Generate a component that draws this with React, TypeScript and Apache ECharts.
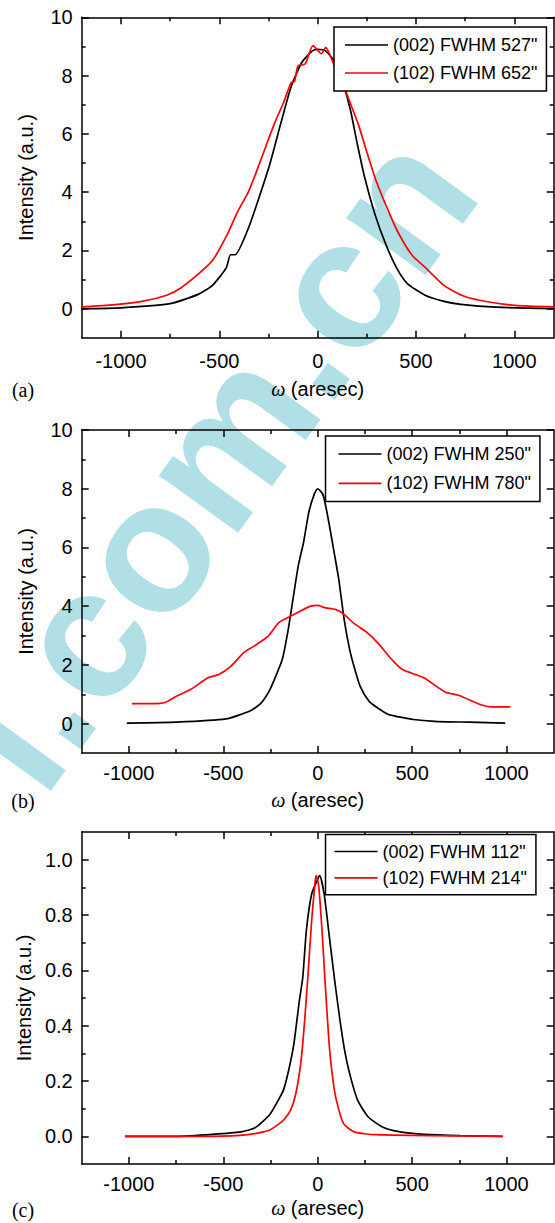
import React, { useEffect, useRef } from "react";
import * as echarts from "echarts";

// ---------- data ----------
const aX002 = [-1200, -1000, -750, -605, -535, -465, -443, -420, -353, -299, -244, -190, -136, -81, -27, 0, 40, 95, 131, 167, 203, 239, 293, 347, 401, 456, 546, 637, 727, 908, 1200];
const aY002 = [0.0, 0.03, 0.17, 0.5, 0.8, 1.4, 1.85, 1.85, 2.75, 3.8, 4.95, 6.3, 7.6, 8.45, 8.85, 8.9, 8.85, 8.4, 7.7, 6.8, 5.6, 4.5, 3.2, 2.2, 1.4, 0.86, 0.46, 0.26, 0.15, 0.05, 0.0];
const aX102 = [-1200, -1075, -894, -768, -696, -605, -533, -461, -407, -353, -317, -262, -217, -172, -136, -118, -100, -64, -24, 18, 41, 81, 118, 163, 208, 244, 298, 353, 407, 479, 552, 642, 733, 823, 1004, 1200];
const aY102 = [0.06, 0.11, 0.25, 0.46, 0.71, 1.2, 1.67, 2.53, 3.33, 4.0, 4.6, 5.6, 6.4, 7.1, 7.75, 7.8, 8.33, 8.4, 9.03, 8.75, 8.97, 8.4, 7.9, 7.1, 6.3, 5.5, 4.37, 3.45, 2.64, 1.84, 1.38, 0.8, 0.46, 0.29, 0.11, 0.06];

const bX002 = [-1011, -749, -487, -356, -300, -253, -215, -187, -159, -131, -103, -75, -47, -19, 0, 28, 56, 84, 112, 140, 169, 197, 225, 272, 318, 375, 431, 506, 618, 805, 993];
const bY002 = [0.02, 0.05, 0.16, 0.44, 0.7, 1.16, 1.73, 2.2, 3.1, 4.23, 5.37, 6.17, 7.2, 7.8, 8.0, 7.8, 6.96, 5.94, 4.9, 3.55, 2.53, 1.84, 1.27, 0.76, 0.53, 0.31, 0.23, 0.14, 0.08, 0.05, 0.02];
const bX102 = [-983, -880, -805, -749, -674, -581, -524, -459, -393, -337, -262, -206, -150, -94, -37, 0, 37, 94, 140, 187, 262, 318, 393, 449, 562, 674, 749, 861, 918, 1021];
const bY102 = [0.68, 0.68, 0.73, 0.93, 1.16, 1.56, 1.67, 1.96, 2.41, 2.64, 2.98, 3.44, 3.64, 3.83, 4.0, 4.03, 3.95, 3.89, 3.72, 3.44, 3.1, 2.75, 2.18, 1.84, 1.56, 1.08, 0.96, 0.65, 0.57, 0.57];

const cX002 = [-1021, -744, -557, -407, -332, -257, -219, -182, -154, -126, -97, -79, -60, -32, 0, 11, 34, 62, 90, 118, 146, 174, 212, 268, 343, 437, 568, 755, 980];
const cY002 = [0.0, 0.0, 0.007, 0.016, 0.031, 0.076, 0.118, 0.166, 0.238, 0.335, 0.491, 0.575, 0.744, 0.876, 0.93, 0.942, 0.876, 0.72, 0.563, 0.419, 0.298, 0.214, 0.13, 0.07, 0.034, 0.016, 0.007, 0.0025, 0.0];
const cX102 = [-1021, -557, -369, -257, -182, -144, -116, -88, -69, -51, -32, -13, -7, 6, 24, 43, 62, 81, 99, 137, 193, 306, 980];
const cY102 = [0.0, 0.0, 0.006, 0.022, 0.058, 0.094, 0.154, 0.274, 0.419, 0.587, 0.78, 0.924, 0.942, 0.9, 0.732, 0.515, 0.322, 0.202, 0.13, 0.046, 0.016, 0.006, 0.0];

const names = [
  ['(002) FWHM 527"', '(102) FWHM 652"'],
  ['(002) FWHM 250"', '(102) FWHM 780"'],
  ['(002) FWHM 112"', '(102) FWHM 214"'],
];
const captions = ["(a)", "(b)", "(c)"];

const xMajor = [-1000, -500, 0, 500, 1000];
const xMinor = [-750, -250, 250, 750];
const yMajorAB = [0, 2, 4, 6, 8, 10];
const yMinorAB = [1, 3, 5, 7, 9];
const yMajorC = [0, 0.2, 0.4, 0.6, 0.8, 1.0];
const yMinorC = [0.1, 0.3, 0.5, 0.7, 0.9];

const zip = (xs: number[], ys: number[]) => xs.map((x, i) => [x, ys[i]]);

const SANS = "'Liberation Sans', Arial, sans-serif";
const SERIF = "'Liberation Serif', 'Times New Roman', serif";

export default function App() {
  const ref = useRef<HTMLDivElement>(null);
  useEffect(() => {
    if (!ref.current) return;
    const chart = echarts.init(ref.current, null, { renderer: "svg" });

    const grids = [
      { left: 81.7, top: 17.3, width: 472, height: 320.5 },
      { left: 81.7, top: 430, width: 472, height: 323 },
      { left: 81.7, top: 832, width: 472, height: 332 },
    ];
    const xRanges = [[-1200, 1200], [-1250, 1250], [-1250, 1250]];
    const yRanges = [[-1, 10], [-1, 10], [-0.1, 1.1]];
    const xLabelMargin = [13, 10, 10];
    const xNameGap = [41, 37, 34];
    const captionY = [390, 801, 1210];
    const legendPos = [
      { left: 334, top: 27, gap: 10, pad: [9, 9, 9, 11] },
      { left: 325.5, top: 436, gap: 11.4, pad: [9, 9, 9, 13] },
      { left: 325.5, top: 834.5, gap: 8.3, pad: [8, 9, 8, 9] },
    ];

    const line = { color: "#000", width: 1.5 };
    const xAxes: any[] = [];
    const yAxes: any[] = [];
    grids.forEach((_, gi) => {
      const [xmin, xmax] = xRanges[gi];
      const [ymin, ymax] = yRanges[gi];
      const yMaj = gi === 2 ? yMajorC : yMajorAB;
      const yMin = gi === 2 ? yMinorC : yMinorAB;
      const baseX = { type: "value", gridIndex: gi, min: xmin, max: xmax, splitLine: { show: false } };
      const baseY = { type: "value", gridIndex: gi, min: ymin, max: ymax, splitLine: { show: false } };
      xAxes.push({
        ...baseX,
        position: "bottom",
        axisLine: { show: true, onZero: false, lineStyle: line },
        axisTick: { show: true, inside: true, length: 7, customValues: xMajor, lineStyle: line },
        axisLabel: {
          show: true, customValues: xMajor, margin: xLabelMargin[gi], fontSize: 20, color: "#000", fontFamily: SANS,
          formatter: (v: number) => String(Math.round(v)),
        },
        name: "{w|ω} (aresec)",
        nameLocation: "middle",
        nameGap: xNameGap[gi],
        nameTextStyle: {
          fontSize: 20, color: "#000", fontFamily: SANS,
          rich: { w: { fontSize: 20, fontFamily: SERIF, fontStyle: "italic", color: "#000" } },
        },
      });
      xAxes.push({
        ...baseX,
        position: "bottom",
        axisLine: { show: false, onZero: false },
        axisTick: { show: true, inside: true, length: 4, customValues: xMinor, lineStyle: line },
        axisLabel: { show: false },
      });
      xAxes.push({
        ...baseX,
        position: "top",
        axisLine: { show: true, onZero: false, lineStyle: line },
        axisTick: { show: true, inside: true, length: 7, customValues: xMajor, lineStyle: line },
        axisLabel: { show: false },
      });
      xAxes.push({
        ...baseX,
        position: "top",
        axisLine: { show: false, onZero: false },
        axisTick: { show: true, inside: true, length: 4, customValues: xMinor, lineStyle: line },
        axisLabel: { show: false },
      });
      yAxes.push({
        ...baseY,
        position: "left",
        axisLine: { show: true, onZero: false, lineStyle: line },
        axisTick: { show: true, inside: true, length: 7, customValues: yMaj, lineStyle: line },
        axisLabel: {
          show: true, customValues: yMaj, margin: 9, fontSize: 20, color: "#000", fontFamily: SANS,
          formatter: (v: number) => (gi === 2 ? v.toFixed(1) : String(Math.round(v))),
        },
        name: "Intensity (a.u.)",
        nameLocation: "middle",
        nameGap: 46,
        nameTextStyle: { fontSize: 20, color: "#000", fontFamily: SANS },
      });
      yAxes.push({
        ...baseY,
        position: "left",
        axisLine: { show: false, onZero: false },
        axisTick: { show: true, inside: true, length: 4, customValues: yMin, lineStyle: line },
        axisLabel: { show: false },
      });
      yAxes.push({
        ...baseY,
        position: "right",
        axisLine: { show: true, onZero: false, lineStyle: line },
        axisTick: { show: true, inside: true, length: 7, customValues: yMaj, lineStyle: line },
        axisLabel: { show: false },
      });
      yAxes.push({
        ...baseY,
        position: "right",
        axisLine: { show: false, onZero: false },
        axisTick: { show: true, inside: true, length: 4, customValues: yMin, lineStyle: line },
        axisLabel: { show: false },
      });
    });

    const dataSets = [
      [zip(aX002, aY002), zip(aX102, aY102)],
      [zip(bX002, bY002), zip(bX102, bY102)],
      [zip(cX002, cY002), zip(cX102, cY102)],
    ];
    const colors = ["#000000", "#ff0000"];
    const series: any[] = [];
    dataSets.forEach((pair, gi) => {
      pair.forEach((d, si) => {
        series.push({
          type: "line",
          name: names[gi][si],
          xAxisIndex: gi * 4,
          yAxisIndex: gi * 4,
          data: d,
          showSymbol: false,
          symbol: "none",
          smooth: 0.2,
          lineStyle: { color: colors[si], width: 1.7 },
          itemStyle: { color: colors[si] },
          z: 3,
        });
      });
    });

    const legends = legendPos.map((p, gi) => ({
      orient: "vertical",
      left: p.left,
      top: p.top,
      data: names[gi],
      icon: "path://M0,0L43,0L43,1.7L0,1.7Z",
      itemWidth: 43,
      itemHeight: 14,
      itemGap: p.gap,
      padding: p.pad,
      borderColor: "#000",
      borderWidth: 1.5,
      backgroundColor: "#fff",
      textStyle: { fontSize: 18, color: "#000", fontFamily: SANS },
      selectedMode: false,
      z: 6,
    }));

    const graphic: any[] = [
      {
        type: "text",
        x: 212,
        y: 460,
        rotation: (54 * Math.PI) / 180,
        z: -1,
        silent: true,
        style: {
          text: "l.com.cn",
          fontSize: 185,
          fontWeight: "bold",
          fontFamily: SANS,
          fill: "#b0dfe5",
          align: "center",
          verticalAlign: "middle",
        },
      },
      ...captions.map((t, i) => ({
        type: "text",
        x: 23,
        y: captionY[i],
        z: 5,
        style: { text: t, fontSize: 20, fontFamily: SERIF, fill: "#000", align: "center", verticalAlign: "middle" },
      })),
    ];

    chart.setOption({
      animation: false,
      backgroundColor: "#fff",
      grid: grids.map((g) => ({ ...g, containLabel: false, outerBoundsMode: "none", show: false })),
      xAxis: xAxes,
      yAxis: yAxes,
      legend: legends,
      series,
      graphic,
    });
    return () => chart.dispose();
  }, []);
  return <div ref={ref} style={{ position: "absolute", left: 0, top: 0, width: 555, height: 1223 }} />;
}
